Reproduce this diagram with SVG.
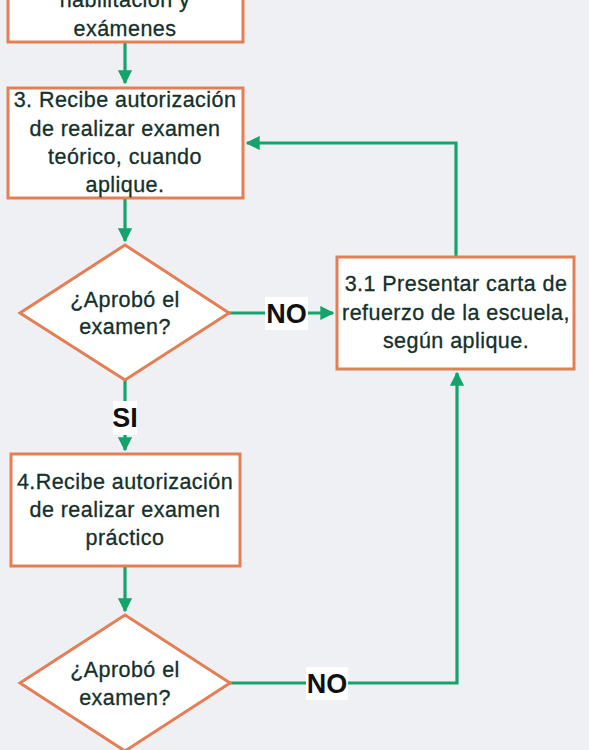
<svg xmlns="http://www.w3.org/2000/svg" width="589" height="750" viewBox="0 0 589 750">
<defs>
<marker id="ah" viewBox="0 0 10 10" refX="9" refY="5" markerWidth="4.4" markerHeight="4.4" orient="auto" markerUnits="strokeWidth">
<path d="M0,0 L10,5 L0,10 z" fill="#14a36b"/>
</marker>
<style>
.box{fill:#ffffff;stroke:#e37e55;stroke-width:3}
.t{font-family:"Liberation Sans",Arial,sans-serif;font-size:21.5px;fill:#14302b;stroke:#14302b;stroke-width:0.3;text-anchor:middle;letter-spacing:0.45px}
.c{fill:none;stroke:#14a36b;stroke-width:3.2}
.lbl{font-family:"Liberation Sans",Arial,sans-serif;font-size:27px;font-weight:bold;fill:#111111;text-anchor:middle}
.lb{fill:#ffffff}
</style>
</defs>
<rect width="589" height="750" fill="#eff0f4"/>
<g id="connectors">
<path class="c" d="M125,42 L125,83" marker-end="url(#ah)"/>
<path class="c" d="M125,198 L125,241" marker-end="url(#ah)"/>
<path class="c" d="M229,313 L333,313" marker-end="url(#ah)"/>
<path class="c" d="M456,257 L456,143 L247,143" marker-end="url(#ah)"/>
<path class="c" d="M125,380 L125,450" marker-end="url(#ah)"/>
<path class="c" d="M125,566 L125,611" marker-end="url(#ah)"/>
<path class="c" d="M230,683 L457,683 L457,373" marker-end="url(#ah)"/>
<g id="label-no1"><rect class="lb" x="265" y="297" width="43" height="33"/><text class="lbl" x="286.5" y="323">NO</text></g>
<g id="label-si"><rect class="lb" x="113" y="401" width="24" height="34"/><text class="lbl" x="125" y="427">SI</text></g>
<g id="label-no2"><rect class="lb" x="306" y="667" width="42" height="33"/><text class="lbl" x="327" y="693">NO</text></g>
</g>
<g id="node-top">
<rect class="box" x="8" y="-40" width="235" height="82"/>
<text class="t" x="125" y="7">habilitación y</text>
<text class="t" x="125" y="36">exámenes</text>
</g>
<g id="node-3">
<rect class="box" x="8" y="88" width="235" height="110"/>
<text class="t" x="125" y="107">3. Recibe autorización</text>
<text class="t" x="125" y="136">de realizar examen</text>
<text class="t" x="125" y="164">teórico, cuando</text>
<text class="t" x="125" y="192">aplique.</text>
</g>
<g id="decision-1">
<polygon class="box" points="125,245 229,313 125,380 20,313"/>
<text class="t" x="125" y="307">¿Aprobó el</text>
<text class="t" x="125" y="334">examen?</text>
</g>
<g id="node-3-1">
<rect class="box" x="337" y="257" width="237" height="112"/>
<text class="t" x="456" y="291">3.1 Presentar carta de</text>
<text class="t" x="456" y="320">refuerzo de la escuela,</text>
<text class="t" x="456" y="348">según aplique.</text>
</g>
<g id="node-4">
<rect class="box" x="11" y="454" width="229" height="112"/>
<text class="t" x="125" y="489">4.Recibe autorización</text>
<text class="t" x="125" y="517">de realizar examen</text>
<text class="t" x="125" y="545">práctico</text>
</g>
<g id="decision-2">
<polygon class="box" points="125,615 230,683 125,751 20,683"/>
<text class="t" x="125" y="677">¿Aprobó el</text>
<text class="t" x="125" y="705">examen?</text>
</g>
</svg>
